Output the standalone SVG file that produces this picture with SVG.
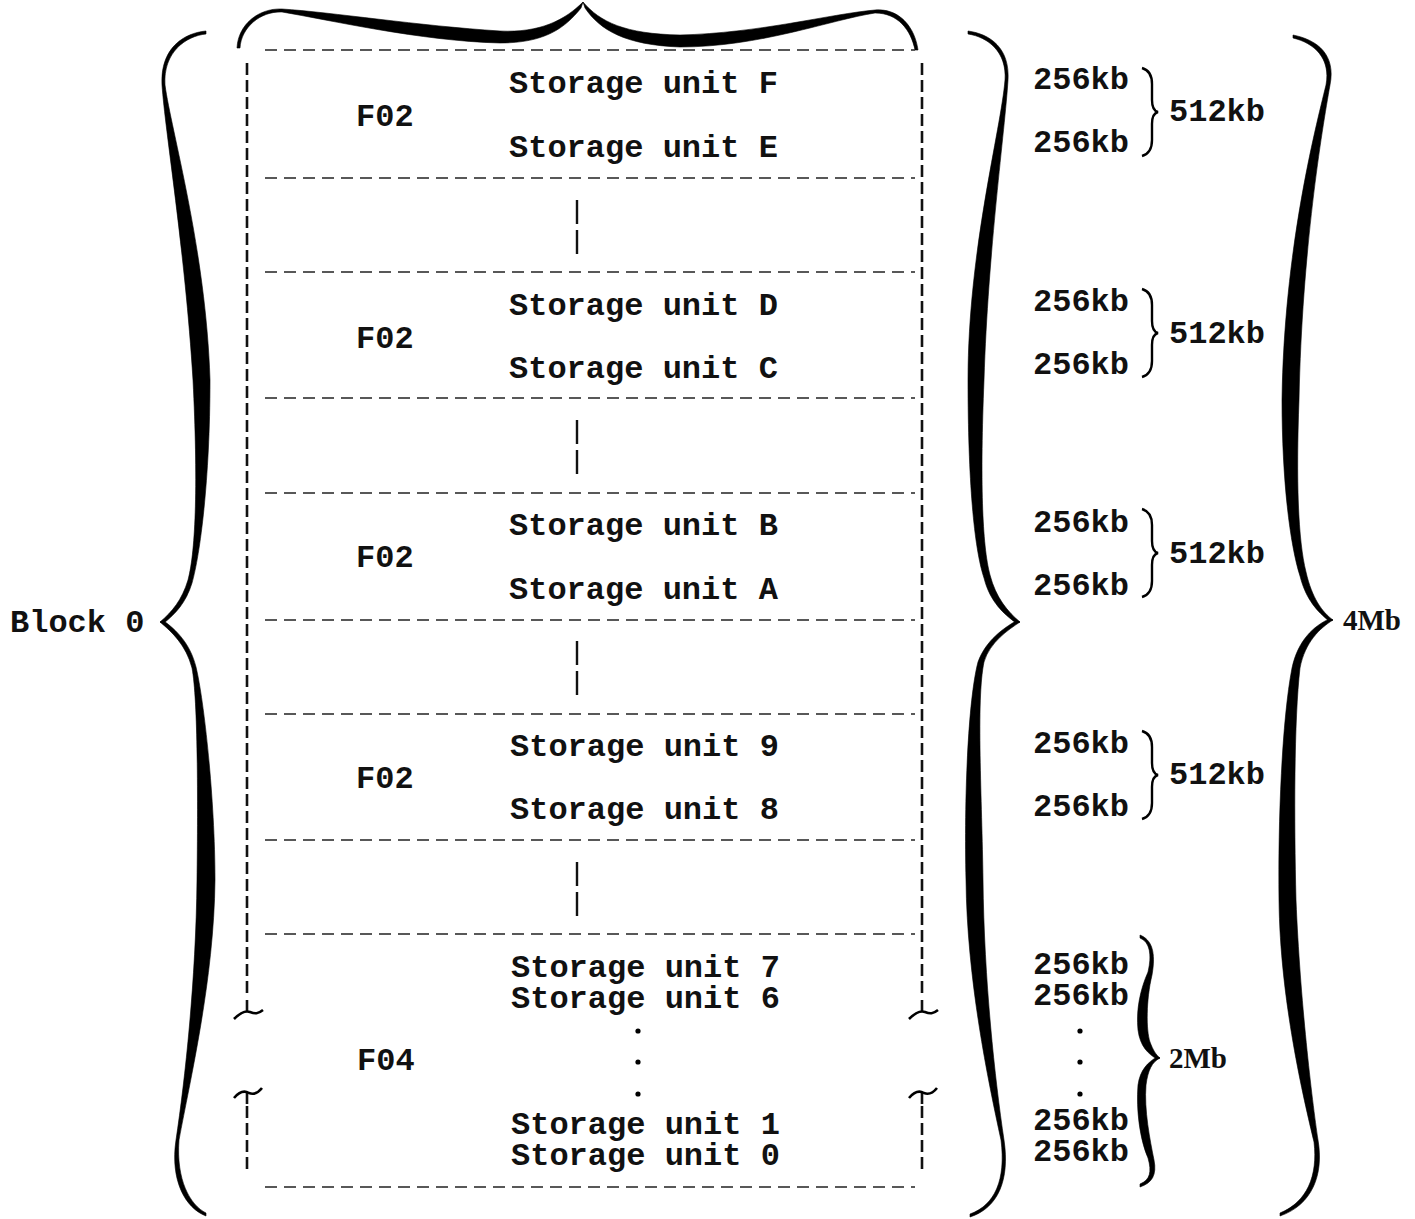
<svg xmlns="http://www.w3.org/2000/svg" width="1415" height="1219" viewBox="0 0 1415 1219">
<style>
.t{font-family:"Liberation Mono","Courier New",monospace;font-size:32px;font-weight:bold;fill:#111}
.s{font-family:"Liberation Serif","Times New Roman",serif;font-size:29px;font-weight:bold;fill:#111}
.h{stroke:#222;stroke-width:1.6;stroke-dasharray:12 7;fill:none}
.v{stroke:#111;stroke-width:2.6;stroke-dasharray:12 5;fill:none}
.vs{stroke:#111;stroke-width:2.6;fill:none}
.m{stroke:#111;stroke-width:2.4;stroke-dasharray:24 6;fill:none}
.b{fill:#000;stroke:#000;stroke-width:0.6}
.sb{fill:none;stroke:#000;stroke-width:2.4}
.k{fill:none;stroke:#000;stroke-width:2.6}
</style>
<defs>
<path id="small" d="M-14,-44 C-7,-42 -4,-36 -4,-28 L-4,-12 C-4,-5 -2,-1 2,0 C-2,1 -4,5 -4,12 L-4,28 C-4,36 -7,42 -14,44"/>
</defs>
<g id="braces">
<g id="brace-top">
<path class="b" d="M237,48 C238,25 258,8 282,9 C330,12 420,26 500,31 C540,33 565,20 583,2 L581,8 C565,28 545,43 500,43 C420,41 330,20 282,12 C260,11 241,28 240,48 Z"/>
<path class="b" d="M583,2 C600,22 625,34 680,35 C760,33 830,14 875,10 C900,8 915,28 918,50 L915,50 C911,30 898,13 875,13 C830,20 760,47 680,47 C625,45 600,30 585,8 Z"/>
</g>
<g id="brace-left">
<path class="b" d="M206,31 C184,33 160,48 162,85 C165,130 185,250 193,380 C198,480 196,550 188,580 C182,600 172,612 160,622 L164,623 C175,614 186,603 192,583 C200,555 210,480 210,380 C206,250 171,130 165,85 C163,52 186,36 206,34 Z"/>
<path class="b" d="M160,622 C172,632 186,645 192,668 C198,700 198,800 197,880 C196,980 185,1080 176,1140 C170,1180 185,1208 206,1216 L206,1213 C190,1205 176,1180 179,1140 C190,1080 214,980 215,880 C215,800 204,700 196,667 C190,643 176,630 164,621 Z"/>
</g>
<g id="brace-mid">
<path class="b" d="M968,31 C990,34 1010,48 1008,80 C1005,130 988,250 984,380 C980,480 982,545 990,575 C996,598 1008,612 1020,622 L1016,623 C1004,614 990,602 984,578 C974,548 968,480 968,380 C968,250 1001,130 1005,80 C1007,52 988,37 968,34 Z"/>
<path class="b" d="M1020,622 C1008,630 990,642 984,662 C976,700 982,800 983,880 C984,980 995,1080 1004,1140 C1010,1180 998,1208 970,1217 L970,1214 C995,1205 1006,1180 1001,1140 C988,1080 967,980 966,880 C964,800 968,700 978,662 C986,640 1004,628 1016,621 Z"/>
</g>
<g id="brace-right">
<path class="b" d="M1293,35 C1318,40 1336,55 1330,85 C1322,130 1302,250 1299,400 C1296,480 1298,540 1306,572 C1312,598 1322,612 1333,620 L1329,621 C1318,612 1306,600 1300,576 C1290,545 1282,480 1282,400 C1284,250 1315,130 1326,85 C1331,58 1314,43 1293,38 Z"/>
<path class="b" d="M1333,620 C1320,628 1305,642 1300,668 C1294,720 1294,820 1296,900 C1300,1000 1312,1100 1318,1140 C1324,1175 1312,1205 1280,1216 L1280,1213 C1307,1202 1318,1176 1314,1142 C1304,1100 1280,1000 1279,900 C1278,820 1282,720 1292,668 C1298,640 1314,626 1329,619 Z"/>
</g>
<g id="brace-512">
<use href="#small" class="sb" transform="translate(1156,112)"/>
<use href="#small" class="sb" transform="translate(1156,333)"/>
<use href="#small" class="sb" transform="translate(1156,553)"/>
<use href="#small" class="sb" transform="translate(1156,775)"/>
</g>
<g id="brace-2mb">
<path class="b" d="M1140,935 C1152,940 1156,952 1152,975 C1146,1000 1146,1030 1150,1042 C1153,1050 1156,1055 1160,1058 L1157,1059 C1148,1054 1140,1046 1138,1030 C1136,1010 1140,990 1148,972 C1152,955 1150,942 1140,938 Z"/>
<path class="b" d="M1160,1058 C1152,1062 1148,1070 1146,1085 C1144,1110 1150,1140 1154,1160 C1157,1175 1152,1183 1140,1187 L1140,1184 C1150,1180 1152,1172 1148,1158 C1140,1140 1136,1110 1138,1085 C1140,1070 1148,1062 1157,1057 Z"/>
</g>
</g>
<g id="frame">
<path class="h" d="M265,50H915M265,178H915M265,272H915M265,398H915M265,493H915M265,620H915M265,714H915M265,840H915M265,934H915M265,1187H915"/>
<path class="v" d="M247,63V998M922,63V998M247,1106V1172M922,1106V1172"/>
<path class="vs" d="M247,1000V1012M922,1000V1012M247,1092V1104M922,1092V1104"/>
<path class="m" d="M577,200V256M577,420V474M577,641V695M577,862V916"/>
<path class="k" d="M234,1019 C240,1013 245,1010 250,1012 C255,1014 258,1014 263,1010"/>
<path class="k" d="M909,1019 C915,1013 920,1010 925,1012 C930,1014 933,1014 938,1010"/>
<path class="k" d="M234,1098 C239,1092 244,1090 249,1093 C254,1095 258,1093 262,1088"/>
<path class="k" d="M909,1098 C914,1092 919,1090 924,1093 C929,1095 933,1093 937,1088"/>
</g>
<g id="node-EF">
<text class="t" x="509" y="93">Storage unit F</text>
<text class="t" x="356" y="126">F02</text>
<text class="t" x="509" y="157">Storage unit E</text>
</g>
<g id="node-CD">
<text class="t" x="509" y="315">Storage unit D</text>
<text class="t" x="356" y="348">F02</text>
<text class="t" x="509" y="378">Storage unit C</text>
</g>
<g id="node-AB">
<text class="t" x="509" y="535">Storage unit B</text>
<text class="t" x="356" y="567">F02</text>
<text class="t" x="509" y="599">Storage unit A</text>
</g>
<g id="node-89">
<text class="t" x="510" y="756">Storage unit 9</text>
<text class="t" x="356" y="788">F02</text>
<text class="t" x="510" y="819">Storage unit 8</text>
</g>
<g id="node-0-7">
<text class="t" x="511" y="977">Storage unit 7</text>
<text class="t" x="511" y="1008">Storage unit 6</text>
<circle cx="638" cy="1031" r="2.6"/>
<circle cx="638" cy="1062" r="2.6"/>
<circle cx="638" cy="1094" r="2.6"/>
<text class="t" x="357" y="1070">F04</text>
<text class="t" x="511" y="1134">Storage unit 1</text>
<text class="t" x="511" y="1165">Storage unit 0</text>
</g>
<g id="sizes">
<text class="t" x="1033" y="89">256kb</text>
<text class="t" x="1033" y="152">256kb</text>
<text class="t" x="1169" y="121">512kb</text>
<text class="t" x="1033" y="311">256kb</text>
<text class="t" x="1033" y="374">256kb</text>
<text class="t" x="1169" y="343">512kb</text>
<text class="t" x="1033" y="532">256kb</text>
<text class="t" x="1033" y="595">256kb</text>
<text class="t" x="1169" y="563">512kb</text>
<text class="t" x="1033" y="753">256kb</text>
<text class="t" x="1033" y="816">256kb</text>
<text class="t" x="1169" y="784">512kb</text>
<text class="t" x="1033" y="974">256kb</text>
<text class="t" x="1033" y="1005">256kb</text>
<circle cx="1080" cy="1031" r="2.6"/>
<circle cx="1080" cy="1062" r="2.6"/>
<circle cx="1080" cy="1094" r="2.6"/>
<text class="t" x="1033" y="1130">256kb</text>
<text class="t" x="1033" y="1161">256kb</text>
<text class="s" x="1169" y="1068">2Mb</text>
<text class="s" x="1343" y="630">4Mb</text>
<text class="t" x="10" y="632">Block 0</text>
</g>
</svg>
